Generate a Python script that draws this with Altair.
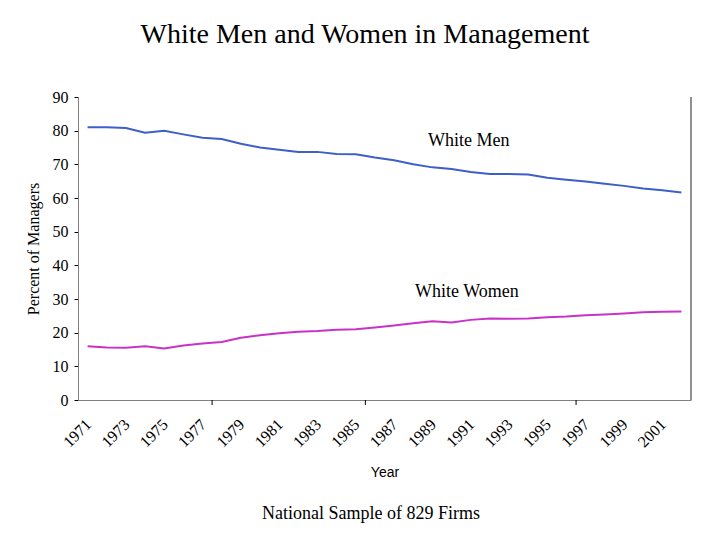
import altair as alt
import pandas as pd

years = list(range(1971, 2003))
white_men = [81.0, 81.0, 80.8, 79.4, 80.0, 78.9, 77.9, 77.5, 76.1, 75.0, 74.3, 73.7,
             73.7, 73.1, 73.0, 72.0, 71.2, 70.0, 69.1, 68.6, 67.7, 67.1, 67.1, 67.0,
             66.0, 65.4, 64.9, 64.2, 63.6, 62.8, 62.3, 61.6]
white_women = [16.0, 15.6, 15.5, 16.0, 15.3, 16.2, 16.8, 17.2, 18.5, 19.2, 19.8, 20.3,
               20.5, 20.9, 21.0, 21.5, 22.1, 22.8, 23.4, 23.0, 23.8, 24.2, 24.1, 24.2,
               24.6, 24.8, 25.2, 25.4, 25.7, 26.1, 26.2, 26.3]
label_years = list(range(1971, 2002, 2))
y_ticks = list(range(0, 91, 10))
tick_years = [1977.5, 1985.5, 1996.5]
series_names = ["White Men", "White Women"]
series_colors = ["#3C5FC8", "#C832C8"]
label_x = [1990.9, 1990.8]
label_y = [76.9, 32.1]
chart_title = "White Men and Women in Management"
footnote_text = "National Sample of 829 Firms"

rows = []
for y, m, w in zip(years, white_men, white_women):
    rows.append({"year": y, "value": m, "series": "White Men"})
    rows.append({"year": y, "value": w, "series": "White Women"})
df = pd.DataFrame(rows)
labels_df = pd.DataFrame({"series": series_names, "year": label_x, "value": label_y})
ticks_df = pd.DataFrame({"year": tick_years})
notes_df = pd.DataFrame({"title": [chart_title], "foot": [footnote_text]})

SERIF = "Liberation Serif"
SANS = "Liberation Sans"
W, H = 613, 303

xscale = alt.Scale(domain=[1970.5, 2002.5], nice=False, zero=False)
yscale = alt.Scale(domain=[0, 90], nice=False)

x_axis = alt.Axis(values=label_years, format="d", ticks=False, grid=False,
                  labelAngle=315, labelAlign="right", labelBaseline="top",
                  labelPadding=16, labelOffset=-5, labelFont=SERIF,
                  labelFontSize=16, labelColor="black",
                  domainColor="#808080",
                  title="Year", titleFont=SANS, titleFontSize=14,
                  titleFontWeight="normal", titleColor="black",
                  titlePadding=16, labelOverlap=False, labelFlush=False)
y_axis = alt.Axis(values=y_ticks, grid=False, tickSize=4,
                  tickColor="black", domainColor="#808080",
                  labelFont=SERIF, labelFontSize=16, labelColor="black",
                  labelPadding=6, labelOverlap=False,
                  title="Percent of Managers", titleFont=SERIF,
                  titleFontSize=16, titleFontWeight="normal",
                  titleColor="black", titlePadding=11)

X = alt.X("year:Q", scale=xscale, axis=x_axis)
Y = alt.Y("value:Q", scale=yscale, axis=y_axis)

lines = alt.Chart(df).mark_line(strokeWidth=2).encode(
    x=X, y=Y,
    color=alt.Color("series:N", scale=alt.Scale(domain=series_names, range=series_colors),
                    legend=None),
)

series_labels = alt.Chart(labels_df).mark_text(
    font=SERIF, fontSize=18, color="black", align="center", baseline="middle"
).encode(x=X, y=Y, text="series:N")

xticks = alt.Chart(ticks_df).mark_rule(color="black", strokeWidth=1).encode(
    x=X,
    y=alt.value(H),
    y2=alt.value(H + 5),
)

right_border = alt.Chart(ticks_df).mark_rule(color="#808080", strokeWidth=1).encode(
    x=alt.value(W), y=alt.value(0), y2=alt.value(H)
)

title = alt.Chart(notes_df).mark_text(
    font=SERIF, fontSize=28, color="black", align="center", baseline="middle"
).encode(x=alt.value(287), y=alt.value(-62), text="title:N")

footnote = alt.Chart(notes_df).mark_text(
    font=SERIF, fontSize=18, color="black", align="center", baseline="middle"
).encode(x=alt.value(293), y=alt.value(417), text="foot:N")

chart = alt.layer(lines, series_labels, xticks, right_border, title, footnote).properties(
    width=W, height=H,
    autosize=alt.AutoSizeParams(type="none"),
    padding={"left": 70, "top": 89, "right": 21, "bottom": 132},
).configure(background="white", font=SERIF).configure_view(stroke=None).configure_axisY(
    labelFont=SERIF, titleFont=SERIF
).configure_axisX(labelFont=SERIF, titleFont=SANS)

chart.save("out.html", embed_options={"renderer": "svg", "actions": False})
